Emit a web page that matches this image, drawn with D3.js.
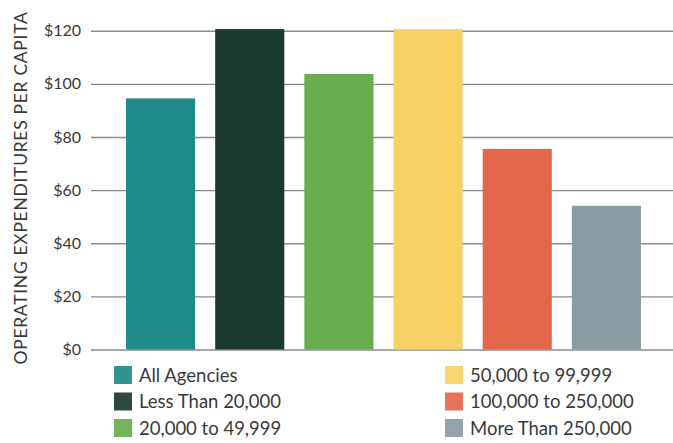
<!DOCTYPE html>
<html>
<head>
<meta charset="utf-8">
<script src="https://cdn.jsdelivr.net/npm/d3@7"></script>
<style>
  html, body { margin: 0; padding: 0; background: #ffffff; }
  svg { display: block; }
  text { font-family: Lato, "Open Sans", sans-serif; fill: #3a3a3a; }
</style>
</head>
<body>
<svg id="chart" width="673" height="443"></svg>
<script>
// Operating expenditures per capita by agency size
const categories = [
  "All Agencies",
  "Less Than 20,000",
  "20,000 to 49,999",
  "50,000 to 99,999",
  "100,000 to 250,000",
  "More Than 250,000"
];
const values = [94.5, 120.6, 103.7, 120.6, 75.5, 54.1];
const colors = ["#1f8a89", "#1b3a30", "#69ad4f", "#f6d165", "#e5674b", "#8a9ba1"];
const yTicks = [0, 20, 40, 60, 80, 100, 120];
const yTitle = "OPERATING EXPENDITURES PER CAPITA";

const svg = d3.select("#chart");

const x = d3.scaleBand()
  .domain(categories)
  .range([116, 651])
  .paddingInner(0.225)
  .paddingOuter(0.1125);

const y = d3.scaleLinear()
  .domain([0, 120])
  .range([349.5, 30.7]);

// Horizontal gridlines with dollar labels
const yAxis = d3.axisLeft(y)
  .tickValues(yTicks)
  .tickSize(-(673 - 91))
  .tickPadding(10)
  .tickFormat(d => "$" + d);

const gy = svg.append("g")
  .attr("transform", "translate(91,0)")
  .call(yAxis);
gy.select(".domain").remove();
gy.selectAll(".tick line")
  .attr("stroke", "#8c8c8c")
  .attr("stroke-width", 1.4);
gy.selectAll(".tick text")
  .attr("x", -10)
  .style("font-size", "16px")
  .style("font-family", "Lato, 'Open Sans', sans-serif")
  .attr("fill", "#3a3a3a");

// Bars
svg.append("g")
  .selectAll("rect")
  .data(categories)
  .join("rect")
  .attr("x", d => x(d))
  .attr("width", x.bandwidth())
  .attr("y", (d, i) => y(values[i]))
  .attr("height", (d, i) => y(0) - y(values[i]))
  .attr("fill", (d, i) => colors[i]);

// Vertical axis title
svg.append("text")
  .attr("transform", "translate(27,188) rotate(-90)")
  .attr("text-anchor", "middle")
  .style("font-size", "17.5px")
  .style("letter-spacing", "0.7px")
  .text(yTitle);

// Legend: two columns of three
const legend = svg.append("g");
const legendItems = legend.selectAll("g")
  .data(categories)
  .join("g")
  .attr("transform", (d, i) => {
    const col = Math.floor(i / 3), row = i % 3;
    return `translate(${col === 0 ? 114 : 445},${366 + row * 26.5})`;
  });
legendItems.append("rect")
  .attr("width", 18)
  .attr("height", 18)
  .attr("fill", (d, i) => colors[i])
  .attr("opacity", 0.92);
legendItems.append("text")
  .attr("x", 25)
  .attr("y", 9)
  .attr("dy", "0.36em")
  .style("font-size", "18.5px")
  .text(d => d);
</script>
</body>
</html>
